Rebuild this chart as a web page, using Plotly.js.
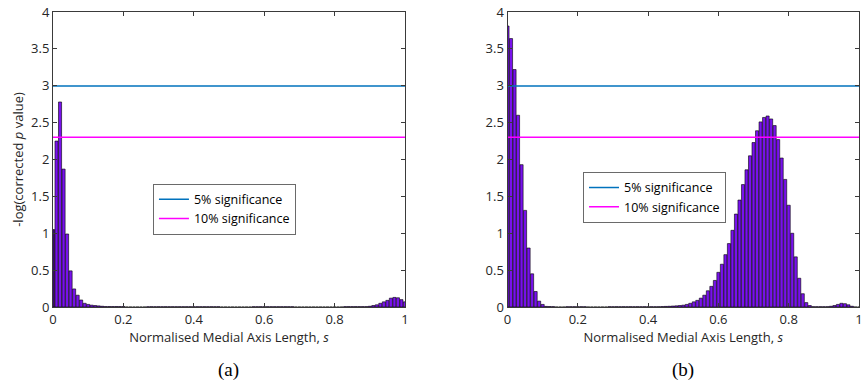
<!DOCTYPE html>
<html>
<head>
<meta charset="utf-8">
<script src="https://cdn.plot.ly/plotly-3.0.1.min.js"></script>
<style>html,body{margin:0;padding:0;background:#fff;}#chart{width:865px;height:387px;}</style>
</head>
<body>
<div id="chart"></div>
<script>
// Bin centres start at s = 0 with step 0.01 (101 bins, 0..1)
const binStart = 0;
const binStep = 0.01;

// Panel (a): -log(corrected p) per bin
const valuesA = [
  1.05, 2.25, 2.78, 1.87, 0.99, 0.49, 0.245, 0.16, 0.095, 0.05,
  0.035, 0.025, 0.02, 0.015, 0.01, 0.006, 0.006, 0.006, 0.006, 0.006,
  0.006, 0, 0, 0, 0, 0, 0, 0.004, 0.004, 0.004,
  0.004, 0.004, 0.004, 0.004, 0.004, 0.004, 0.004, 0.004, 0.004, 0.004,
  0.004, 0.004, 0.004, 0.004, 0.004, 0.004, 0.004, 0.004, 0, 0,
  0, 0, 0, 0, 0, 0, 0, 0.004, 0.004, 0.004,
  0.004, 0.004, 0.004, 0.004, 0.004, 0.004, 0.004, 0.004, 0.004, 0,
  0, 0, 0, 0, 0, 0, 0, 0, 0, 0,
  0, 0, 0, 0.005, 0.005, 0.005, 0.005, 0.005, 0.005, 0.005,
  0.01, 0.02, 0.03, 0.05, 0.07, 0.09, 0.12, 0.13, 0.125, 0.10,
  0.07
];

// Panel (b)
const valuesB = [
  3.81, 3.64, 3.22, 2.60, 1.93, 1.31, 0.80, 0.45, 0.21, 0.08,
  0.035, 0.008, 0.006, 0.005, 0, 0, 0, 0.004, 0.004, 0.004,
  0.004, 0.004, 0.004, 0, 0, 0, 0, 0, 0, 0.004,
  0.004, 0.004, 0.004, 0.004, 0.004, 0.004, 0.004, 0.004, 0.004, 0.004,
  0.004, 0.004, 0.004, 0.004, 0.006, 0.008, 0.01, 0.013, 0.016, 0.02,
  0.025, 0.035, 0.05, 0.07, 0.09, 0.12, 0.16, 0.22, 0.28, 0.36,
  0.47, 0.58, 0.71, 0.86, 1.04, 1.26, 1.45, 1.66, 1.86, 2.05,
  2.23, 2.39, 2.51, 2.57, 2.59, 2.55, 2.46, 2.27, 2.02, 1.73,
  1.38, 1.00, 0.68, 0.39, 0.18, 0.06, 0.02, 0.004, 0.004, 0.004,
  0.004, 0.004, 0.01, 0.02, 0.035, 0.05, 0.045, 0.03, 0.01, 0,
  0
];

// Significance thresholds: -ln(0.05), -ln(0.10)
const thresholdNames = ["5% significance", "10% significance"];
const thresholdValues = [2.996, 2.303];
const thresholdColors = ["#0072BD", "#FF00FF"];
const lineX = [0, 1];

const xTickVals = [0, 0.2, 0.4, 0.6, 0.8, 1];
const xTickText = ["0", "0.2", "0.4", "0.6", "0.8", "1"];
const yTickVals = [0, 0.5, 1, 1.5, 2, 2.5, 3, 3.5, 4];
const yTickText = ["0", "0.5", "1", "1.5", "2", "2.5", "3", "3.5", "4"];

const xTitle = "Normalised Medial Axis Length, <i>s</i>";
const yTitle = "-log(corrected <i>p</i> value)";
const panelLabels = ["(a)", "(b)"];

const barFill = "#7812EC";
const colorsA = valuesA.map((v, i) => i === 0 ? "#3a0570" : barFill);

const traces = [];
function barTrace(vals, colors, xa, ya) {
  return {
    type: "bar", x0: binStart, dx: binStep, y: vals,
    xaxis: xa, yaxis: ya, showlegend: false, hoverinfo: "skip",
    marker: {color: colors, line: {color: "#000000", width: 0.6}}
  };
}
traces.push(barTrace(valuesA, colorsA, "x", "y"));
traces.push(barTrace(valuesB, barFill, "x2", "y2"));

[["x", "y", "legend"], ["x2", "y2", "legend2"]].forEach(([xa, ya, lg]) => {
  thresholdNames.forEach((name, i) => {
    traces.push({
      type: "scatter", mode: "lines", name: name,
      x: lineX, y: [thresholdValues[i], thresholdValues[i]],
      xaxis: xa, yaxis: ya, legend: lg,
      line: {color: thresholdColors[i], width: 1.5}, hoverinfo: "skip"
    });
  });
});

const fontFam = "'Open Sans', 'Noto Sans', sans-serif";
const axisColor = "#3a3a3a";
function xAxis(domain, anchor) {
  return {
    domain: domain, anchor: anchor, range: [0, 1], fixedrange: true,
    tickvals: xTickVals, ticktext: xTickText,
    ticks: "inside", ticklen: 4, tickcolor: axisColor, tickwidth: 1,
    showline: true, linecolor: axisColor, linewidth: 1, mirror: "ticks",
    showgrid: false, zeroline: false,
    tickfont: {family: fontFam, size: 13, color: "#262626"},
    title: {text: xTitle, font: {family: fontFam, size: 13, color: "#262626"}, standoff: 2}
  };
}
function yAxis(anchor, withTitle) {
  const ax = {
    anchor: anchor, range: [0, 4], fixedrange: true,
    tickvals: yTickVals, ticktext: yTickText,
    ticks: "inside", ticklen: 4, tickcolor: axisColor, tickwidth: 1,
    showline: true, linecolor: axisColor, linewidth: 1, mirror: "ticks",
    showgrid: false, zeroline: false,
    tickfont: {family: fontFam, size: 13, color: "#262626"}
  };
  if (withTitle) ax.title = {text: yTitle, font: {family: fontFam, size: 13, color: "#262626"}, standoff: 4};
  return ax;
}

const legendStyle = {
  bgcolor: "#ffffff", bordercolor: "#6a6a6a", borderwidth: 1,
  font: {family: fontFam, size: 12.5, color: "#000000"},
  xanchor: "left", yanchor: "top", tracegroupgap: 0
};

const layout = {
  width: 865, height: 387,
  margin: {l: 53, r: 6, t: 12, b: 80},
  paper_bgcolor: "#ffffff", plot_bgcolor: "#ffffff",
  bargap: 0.12,
  xaxis: xAxis([0, 0.4367], "y"),
  yaxis: yAxis("x", true),
  xaxis2: xAxis([0.5639, 1], "y2"),
  yaxis2: yAxis("x2", false),
  legend: Object.assign({x: 0.124, y: 0.418}, legendStyle),
  legend2: Object.assign({x: 0.6576, y: 0.458}, legendStyle),
  annotations: [
    {text: panelLabels[0], xref: "paper", yref: "paper", x: 0.2183, y: -0.215, showarrow: false,
     xanchor: "center", yanchor: "middle", font: {family: "'Liberation Serif', 'DejaVu Serif', serif", size: 19, color: "#000"}},
    {text: panelLabels[1], xref: "paper", yref: "paper", x: 0.7819, y: -0.215, showarrow: false,
     xanchor: "center", yanchor: "middle", font: {family: "'Liberation Serif', 'DejaVu Serif', serif", size: 19, color: "#000"}}
  ]
};

Plotly.newPlot("chart", traces, layout, {staticPlot: true, displayModeBar: false});
</script>
</body>
</html>
